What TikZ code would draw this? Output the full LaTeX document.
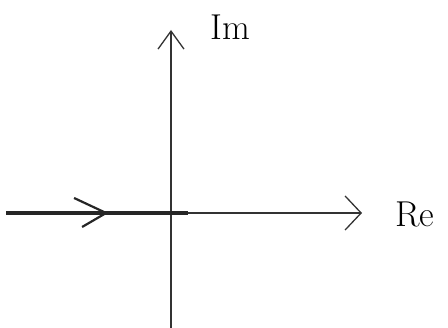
\documentclass[tikz,border=0pt]{standalone}
\usetikzlibrary{arrows.meta,decorations.markings}
\begin{document}
\begin{tikzpicture}[x=1pt,y=-1pt,
  axis/.style={draw=black!80,line width=1.3pt},
  cut/.style={draw=black!85,line width=4.5pt,
    postaction={decorate,decoration={markings,
      mark=at position 0.55 with {\draw[black!85,line width=2.2pt] (-32,-15) -- (0,0) -- (-24,14);}}}},
  lab/.style={font=\fontsize{36}{36}\selectfont, inner sep=0pt}]
\useasboundingbox (0,0) rectangle (448,328);
\coordinate (O) at (171,213);
\coordinate (cutend) at (188,213);
\coordinate (bot) at (171,328);
\coordinate (top) at (171,30);
\coordinate (left) at (6,213);
\coordinate (right) at (362,213);
\draw[axis,-{Straight Barb[length=18pt,width=26pt]}] (bot) -- (top);
\draw[axis,-{Straight Barb[length=16pt,width=34pt]}] (O) -- (right);
\draw[cut] (left) -- (cutend);
\node[lab] (im) at (230,27) {Im};
\node[lab] (re) at (415,214) {Re};
\end{tikzpicture}
\end{document}
